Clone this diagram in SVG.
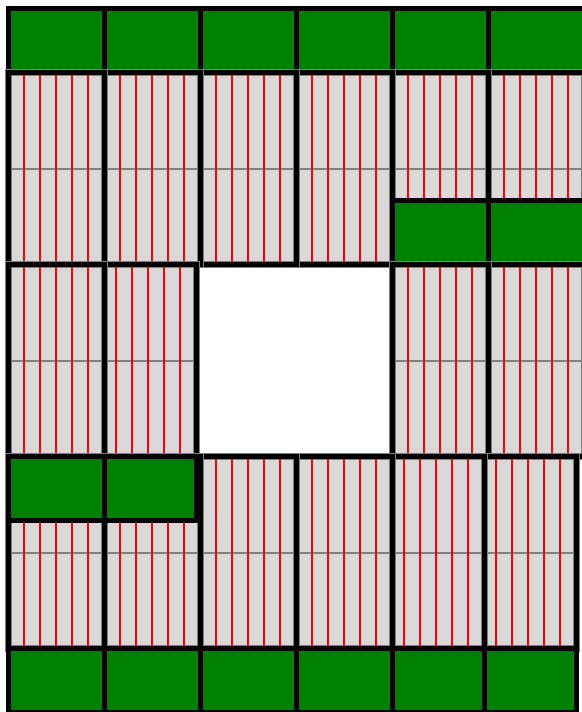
<svg xmlns="http://www.w3.org/2000/svg" xmlns:xlink="http://www.w3.org/1999/xlink" width="582" height="712" viewBox="0 0 582 712">
<defs>
<style>
.g{fill:#008000;stroke:#000;stroke-width:5}
.pf{fill:#d9d9d9;stroke:#808080;stroke-width:7}
.mid{stroke:#808080;stroke-width:2;fill:none}
.slat{stroke:#ff0000;stroke-width:2;fill:none}
.ol{fill:none;stroke:#000;stroke-width:5}
</style>
<g id="panel">
<rect class="pf" width="96" height="192"/>
<path class="mid" d="M0 96.5H96"/>
<path class="slat" d="M15.5 0V192M31.5 0V192M47.5 0V192M63.5 0V192M79.5 0V192"/>
<rect class="ol" width="96" height="192"/>
</g>
<rect id="block" class="g" width="96" height="64"/>
</defs>
<rect width="582" height="712" fill="#ffffff"/>
<g transform="translate(0.5 0.5)">
<g id="rowA">
<g id="a1"><use href="#block" x="8" y="8"/></g>
<g id="a2"><use href="#block" x="104" y="8"/></g>
<g id="a3"><use href="#block" x="200" y="8"/></g>
<g id="a4"><use href="#block" x="296" y="8"/></g>
<g id="a5"><use href="#block" x="392" y="8"/></g>
<g id="a6"><use href="#block" x="488" y="8"/></g>
</g>
<g id="rowB">
<g id="b6"><use href="#panel" x="488" y="72"/></g>
<g id="b5"><use href="#panel" x="392" y="72"/></g>
<g id="b4"><use href="#panel" x="296" y="72"/></g>
<g id="b3"><use href="#panel" x="200" y="72"/></g>
<g id="b2"><use href="#panel" x="104" y="72"/></g>
<g id="b1"><use href="#panel" x="8" y="72"/></g>
<g id="b6g"><use href="#block" x="488" y="200"/></g>
<g id="b5g"><use href="#block" x="392" y="200"/></g>
</g>
<g id="rowC">
<g id="c6"><use href="#panel" x="488" y="264"/></g>
<g id="c5"><use href="#panel" x="392" y="264"/></g>
<g id="c2"><use href="#panel" x="100" y="264"/></g>
<g id="c1"><use href="#panel" x="8" y="264"/></g>
</g>
<g id="rowD">
<g id="d6"><use href="#panel" x="480" y="456"/></g>
<g id="d5"><use href="#panel" x="388" y="456"/></g>
<g id="d4"><use href="#panel" x="296" y="456"/></g>
<g id="d3"><use href="#panel" x="200" y="456"/></g>
<g id="d2"><use href="#panel" x="104" y="456"/></g>
<g id="d1"><use href="#panel" x="8" y="456"/></g>
<g id="d2g"><use href="#block" x="100" y="456"/></g>
<g id="d1g"><use href="#block" x="8" y="456"/></g>
</g>
<g id="rowE">
<g id="e6"><use href="#block" x="480" y="648"/></g>
<g id="e5"><use href="#block" x="388" y="648"/></g>
<g id="e4"><use href="#block" x="296" y="648"/></g>
<g id="e3"><use href="#block" x="200" y="648"/></g>
<g id="e2"><use href="#block" x="104" y="648"/></g>
<g id="e1"><use href="#block" x="8" y="648"/></g>
</g>
</g>
</svg>
